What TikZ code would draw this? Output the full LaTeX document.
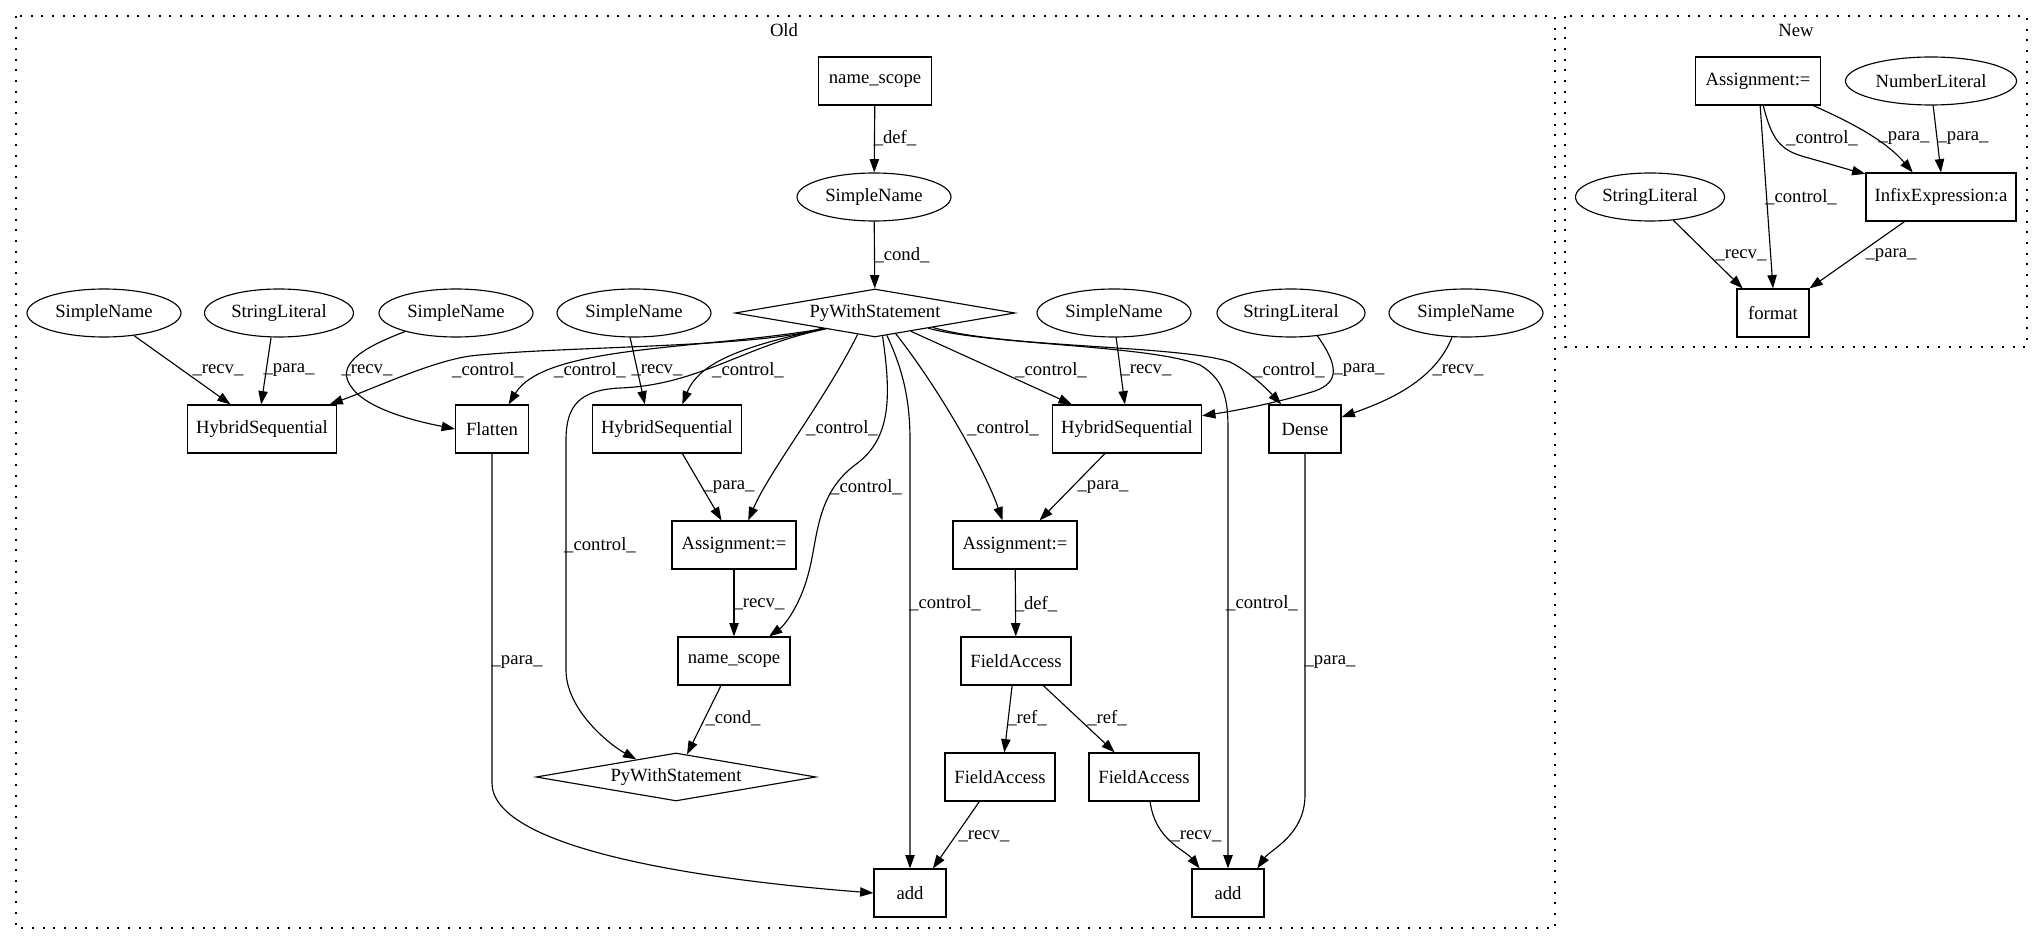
\documentclass[tikz,border=0pt]{standalone}
\usepackage{fontspec}
\setmainfont{Liberation Serif}
\usetikzlibrary{shapes.geometric,arrows.meta}
\begin{document}
\begin{tikzpicture}[x=0.75pt,y=-0.75pt,
  every node/.style={font=\fontsize{14pt}{16pt}\selectfont},
  rbox/.style={draw, rectangle, line width=0.85pt, minimum height=36pt, inner sep=0pt},
  ell/.style={draw, ellipse, line width=0.85pt, minimum height=36pt, inner sep=0pt},
  dia/.style={draw, diamond, line width=0.85pt, minimum width=210pt, minimum height=36pt, inner sep=0pt, aspect=5.8},
  lbl/.style={inner sep=0pt},
  edge/.style={line width=0.85pt, -{Triangle[length=10pt,width=7pt]}},
  clus/.style={line width=1pt, dash pattern=on 1.5pt off 6.5pt}]
\useasboundingbox (0,0) rectangle (2043,944);
\fill[white] (0,0) rectangle (2043,944);
% clusters
\draw[clus] (16,16) rectangle (1555,928);
\draw[clus] (1565,16) rectangle (2027,347);
\node[lbl] (tOld) at (784,30) {Old};
\node[lbl] (tNew) at (1796,30) {New};
% Old nodes
\node[rbox, minimum width=84.75pt] (nsTop) at (875,81) {name\_scope};
\node[ell, minimum width=115.5pt] (snTop) at (874,197) {SimpleName};
\node[dia] (pw1) at (875,313) {PyWithStatement};
\node[ell, minimum width=115.5pt] (sn1) at (104,313) {SimpleName};
\node[ell, minimum width=111.75pt] (sl1) at (279,313) {StringLiteral};
\node[ell, minimum width=115.5pt] (sn2) at (456,313) {SimpleName};
\node[ell, minimum width=115.5pt] (sn3) at (634,313) {SimpleName};
\node[ell, minimum width=115.5pt] (sn4) at (1114,313) {SimpleName};
\node[ell, minimum width=111pt] (sl2) at (1291,313) {StringLiteral};
\node[ell, minimum width=115.5pt] (sn5) at (1466,313) {SimpleName};
\node[rbox, minimum width=111.75pt] (hs1) at (262,429) {HybridSequential};
\node[rbox, minimum width=54.75pt] (flat) at (492,429) {Flatten};
\node[rbox, minimum width=111.75pt] (hs2) at (667,429) {HybridSequential};
\node[rbox, minimum width=111.75pt] (hs3) at (1127,429) {HybridSequential};
\node[rbox, minimum width=54pt] (dense) at (1305,429) {Dense};
\node[rbox, minimum width=93pt] (as1) at (734,545) {Assignment:=};
\node[rbox, minimum width=93pt] (as2) at (1015,545) {Assignment:=};
\node[rbox, minimum width=84pt] (ns2) at (734,661) {name\_scope};
\node[rbox, minimum width=82.5pt] (fa1) at (1016,661) {FieldAccess};
\node[dia] (pw2) at (676,777) {PyWithStatement};
\node[rbox, minimum width=82.5pt] (fa2) at (1000,777) {FieldAccess};
\node[rbox, minimum width=82.5pt] (fa3) at (1144,777) {FieldAccess};
\node[rbox, minimum width=54pt] (add1) at (910,893) {add};
\node[rbox, minimum width=54pt] (add2) at (1228,893) {add};
% New nodes
\node[rbox, minimum width=93.75pt] (nAs) at (1758,81) {Assignment:=};
\node[ell, minimum width=128.25pt] (nNum) at (1931,81) {NumberLiteral};
\node[ell, minimum width=111.75pt] (nSL) at (1650,197) {StringLiteral};
\node[rbox, minimum width=112.5pt] (nInf) at (1941,197) {InfixExpression:a};
\node[rbox, minimum width=54pt] (nFmt) at (1773,313) {format};
% Old edges
\draw[edge] (nsTop) -- (snTop);
\draw[edge] (snTop) -- (pw1);
\draw[edge] (sn1.-37) -- (hs1.142);
\draw[edge] (sl1.-108) -- (hs1.92);
\draw[edge] (pw1.196) .. controls (760,348) and (560,346) .. (470,356) .. controls (430,362) and (375,388) .. (hs1.20);
\draw[edge] (sn2.200) .. controls (370,345) and (335,362) .. (350,385) .. controls (365,410) and (420,422) .. (flat.west);
\draw[edge] (pw1.197) .. controls (700,350) and (545,345) .. (flat.56);
\draw[edge] (sn3.-99) -- (hs2.132);
\draw[edge] (pw1.197) .. controls (750,345) and (700,360) .. (hs2.58);
\draw[edge] (pw1.198) .. controls (745,345) and (700,385) .. (620,388) .. controls (580,390) and (566,405) .. (566,440) -- (566,670) .. controls (566,710) and (610,745) .. (pw2.156);
\draw[edge] (pw1.231) .. controls (825,400) and (770,470) .. (as1.60);
\draw[edge] (pw1.-72) .. controls (892,400) and (890,440) .. (855,465) .. controls (815,495) and (818,540) .. (808,575) .. controls (800,605) and (785,625) .. (ns2.35);
\draw[edge] (pw1.-62) .. controls (903,370) and (910,400) .. (910,440) -- (add1);
\draw[edge] (pw1.-45) .. controls (940,390) and (985,470) .. (as2.117);
\draw[edge] (pw1.-27) -- (hs3.156);
\draw[edge] (pw1.-16) .. controls (990,345) and (1150,345) .. (1200,365) .. controls (1225,380) and (1228,400) .. (1228,430) -- (add2);
\draw[edge] (pw1.-14) .. controls (1000,348) and (1180,345) .. (1230,362) .. controls (1250,372) and (1268,390) .. (dense.134);
\draw[edge] (sn4.-85) -- (hs3.95);
\draw[edge] (sl2.-41) .. controls (1338,365) and (1340,382) .. (1315,391) .. controls (1280,402) and (1240,410) .. (hs3.10);
\draw[edge] (sn5.-120) .. controls (1435,380) and (1390,400) .. (dense.18);
\draw[edge] (hs2.-58) -- (as1.117);
\draw[edge] (hs3.-132) -- (as2.45);
\draw[edge] (flat) -- (492,783) .. controls (492,845) and (680,878) .. (add1.west);
\draw[edge] (dense) -- (1305,795) .. controls (1305,835) and (1270,850) .. (add2.40);
\draw[edge] (as1) -- (ns2);
\draw[edge] (as2) -- (fa1);
\draw[edge] (ns2.-118) -- (pw2.64);
\draw[edge] (fa1.-99) -- (fa2.80);
\draw[edge] (fa1.-42) -- (fa3.140);
\draw[edge] (fa2.-130) -- (add1.47);
\draw[edge] (fa3.-76) .. controls (1155,840) and (1185,850) .. (add2.139);
% New edges
\draw[edge] (nAs.-78) .. controls (1772,140) and (1780,150) .. (1805,157) .. controls (1830,164) and (1850,170) .. (nInf.163);
\draw[edge] (nAs.-24) .. controls (1850,122) and (1885,140) .. (nInf.139);
\draw[edge] (nNum.-85) -- (nInf.north);
\draw[edge] (nAs.-85) -- (nFmt.north);
\draw[edge] (nSL.-45) -- (nFmt.141);
\draw[edge] (nInf.-146) -- (nFmt.34);
% Old labels
\node[lbl] (l1) at (895,138) {\_def\_};
\node[lbl] (l2) at (902,255) {\_cond\_};
\node[lbl] (l3) at (218,370) {\_recv\_};
\node[lbl] (l4) at (289,370) {\_para\_};
\node[lbl] (l5) at (367,370) {\_recv\_};
\node[lbl] (l6) at (488,370) {\_control\_};
\node[lbl] (l7) at (590,370) {\_control\_};
\node[lbl] (l8) at (657,370) {\_recv\_};
\node[lbl] (l9) at (748,370) {\_control\_};
\node[lbl] (l10) at (1051,370) {\_control\_};
\node[lbl] (l11) at (1146,370) {\_recv\_};
\node[lbl] (l12) at (1289,370) {\_control\_};
\node[lbl] (l13) at (1359,370) {\_para\_};
\node[lbl] (l14) at (1458,370) {\_recv\_};
\node[lbl] (l15) at (842,428) {\_control\_};
\node[lbl] (l16) at (1003,428) {\_control\_};
\node[lbl] (l17) at (729,487) {\_para\_};
\node[lbl] (l18) at (866,487) {\_control\_};
\node[lbl] (l19) at (1103,487) {\_para\_};
\node[lbl] (l20) at (600,545) {\_control\_};
\node[lbl] (l21) at (759,604) {\_recv\_};
\node[lbl] (l22) at (945,603) {\_control\_};
\node[lbl] (l23) at (1036,604) {\_def\_};
\node[lbl] (l24) at (1262,603) {\_control\_};
\node[lbl] (l25) at (517,662) {\_para\_};
\node[lbl] (l26) at (1330,662) {\_para\_};
\node[lbl] (l27) at (733,718) {\_cond\_};
\node[lbl] (l28) at (1027,718) {\_ref\_};
\node[lbl] (l29) at (1107,718) {\_ref\_};
\node[lbl] (l30) at (984,836) {\_recv\_};
\node[lbl] (l31) at (1196,836) {\_recv\_};
% New labels
\node[lbl] (m1) at (1822,138) {\_control\_};
\node[lbl] (m2) at (1904,138) {\_para\_};
\node[lbl] (m3) at (1963,138) {\_para\_};
\node[lbl] (m4) at (1801,197) {\_control\_};
\node[lbl] (m5) at (1741,255) {\_recv\_};
\node[lbl] (m6) at (1891,255) {\_para\_};
\end{tikzpicture}
\end{document}
